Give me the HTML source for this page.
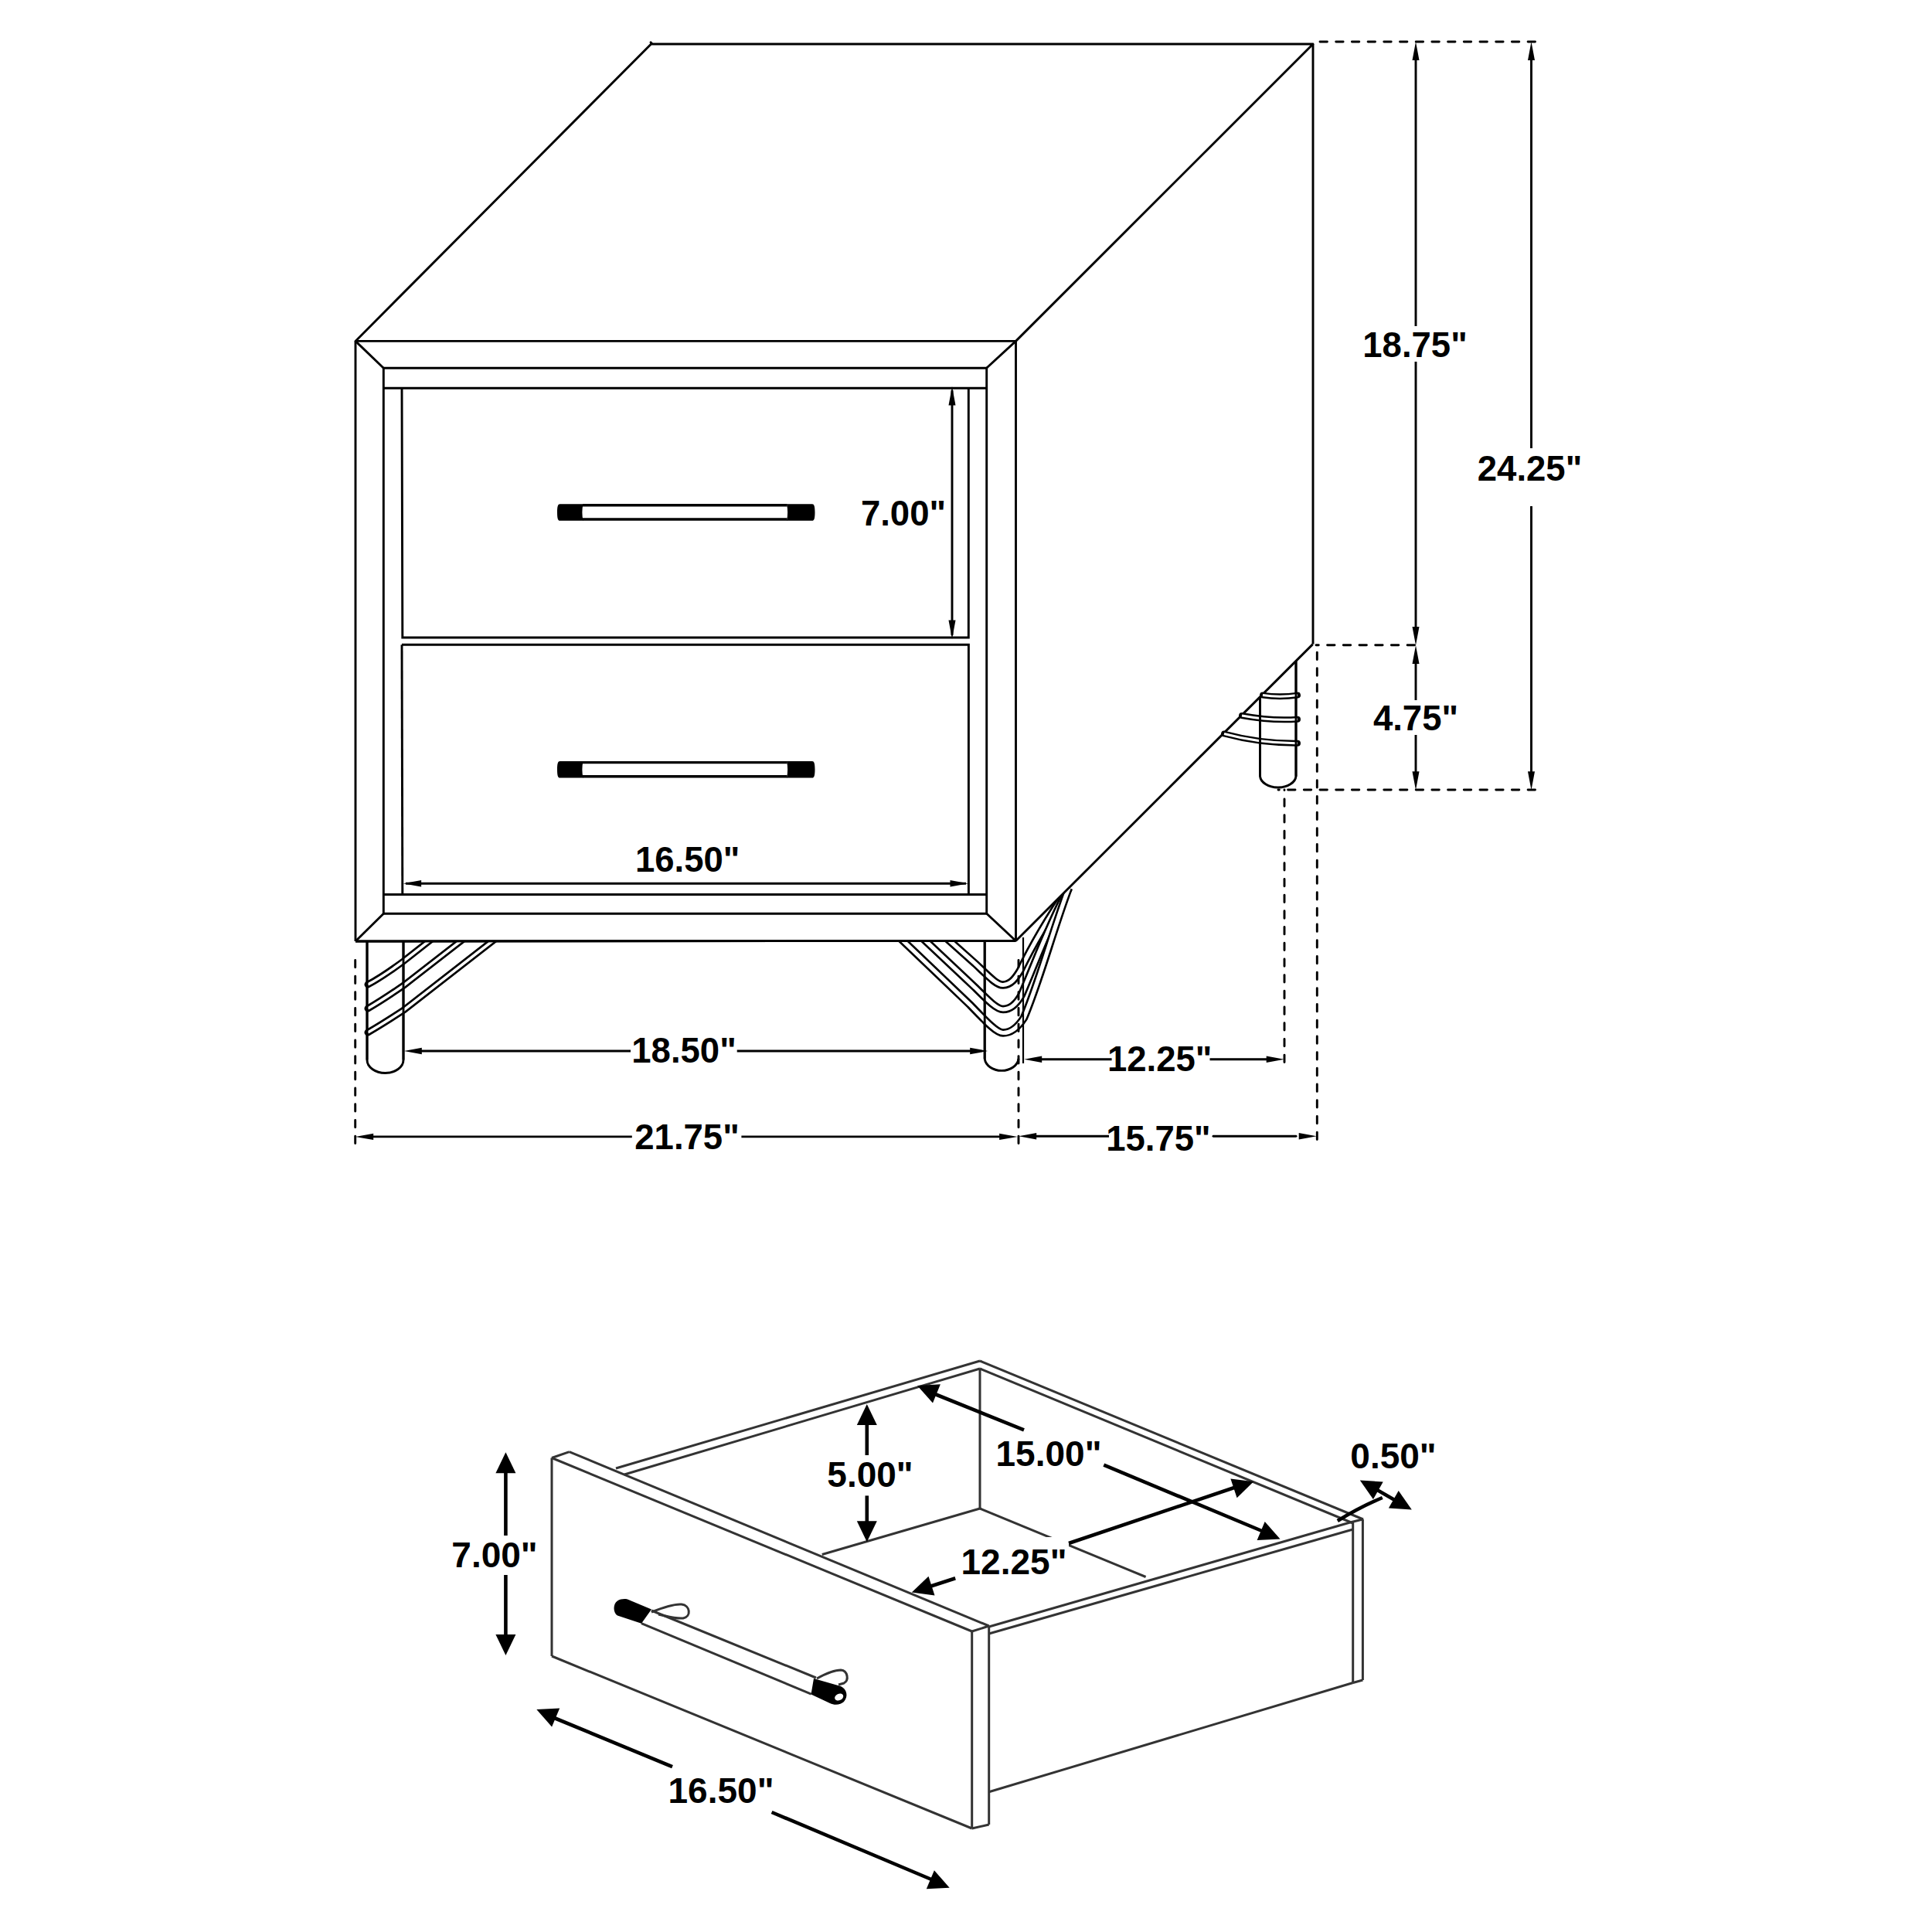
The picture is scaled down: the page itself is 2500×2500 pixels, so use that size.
<!DOCTYPE html>
<html><head><meta charset="utf-8"><style>
html,body{margin:0;padding:0;background:#fff;width:2500px;height:2500px;overflow:hidden}
svg{display:block}
text{font-family:"Liberation Sans",sans-serif;font-weight:bold;fill:#000}
</style></head><body>
<svg width="2500" height="2500" viewBox="0 0 2500 2500" stroke-linecap="butt">
<defs><clipPath id="below"><polygon points="0,1218 1314.5,1218 1698.7,833.6 2500,833.6 2500,2500 0,2500"/></clipPath></defs>
<rect width="2500" height="2500" fill="#fff"/>
<path d="M460,441.4 L842.5,57 L1699,57 L1314.5,441.4 Z" stroke="#000" stroke-width="2.9" fill="none" stroke-linejoin="round"/>
<line x1="1699" y1="57" x2="1699" y2="833.6" stroke="#000" stroke-width="2.9" />
<line x1="843.5" y1="56.5" x2="842" y2="54.8" stroke="#000" stroke-width="2.9" stroke-linecap="round"/>
<line x1="460" y1="441.4" x2="460" y2="1218" stroke="#000" stroke-width="2.9" />
<line x1="1314.5" y1="441.4" x2="1314.5" y2="1217.5" stroke="#000" stroke-width="2.9" />
<line x1="460" y1="1218" x2="1314.5" y2="1217.5" stroke="#000" stroke-width="2.9" />
<line x1="460" y1="441.4" x2="496.3" y2="476.3" stroke="#000" stroke-width="2.9" />
<line x1="1314.5" y1="441.4" x2="1276.6" y2="476.3" stroke="#000" stroke-width="2.9" />
<line x1="496.3" y1="1182.3" x2="460" y2="1218" stroke="#000" stroke-width="2.9" />
<line x1="1276.8" y1="1182.3" x2="1314.5" y2="1217.5" stroke="#000" stroke-width="2.9" />
<path d="M496.3,476.3 L1276.7,476.3 L1276.7,1182.3 L496.3,1182.3 Z" stroke="#000" stroke-width="2.9" fill="none" />
<line x1="496.3" y1="502.2" x2="1276.7" y2="502.2" stroke="#000" stroke-width="2.9" />
<path d="M520,502.2 L520.8,825 L1253.3,825 L1253.3,502.2" stroke="#000" stroke-width="2.9" fill="none" />
<path d="M520,834.3 L1253.4,834.3 L1253.4,1157.5" stroke="#000" stroke-width="2.9" fill="none" />
<line x1="520" y1="834.3" x2="520.8" y2="1157.5" stroke="#000" stroke-width="2.9" />
<line x1="496.3" y1="1157.5" x2="1276.7" y2="1157.5" stroke="#000" stroke-width="2.9" />
<line x1="754" y1="653.8" x2="1018.5" y2="653.8" stroke="#000" stroke-width="3.4" />
<line x1="754" y1="672.0" x2="1018.5" y2="672.0" stroke="#000" stroke-width="3.4" />
<path d="M754.5,652.2 L724.5,652.2 C722,652.2 721,655 721,663 C721,671 722,673.8 724.5,673.8 L754.5,673.8 C753,667 753,659 754.5,652.2 Z" fill="#000"/>
<path d="M1018,652.2 L1051,652.2 C1053.5,652.2 1054.5,655 1054.5,663 C1054.5,671 1053.5,673.8 1051,673.8 L1018,673.8 C1019.5,667 1019.5,659 1018,652.2 Z" fill="#000"/>
<line x1="754" y1="986.5999999999999" x2="1018.5" y2="986.5999999999999" stroke="#000" stroke-width="3.4" />
<line x1="754" y1="1004.8" x2="1018.5" y2="1004.8" stroke="#000" stroke-width="3.4" />
<path d="M754.5,985.0 L724.5,985.0 C722,985.0 721,987.8 721,995.8 C721,1003.8 722,1006.5999999999999 724.5,1006.5999999999999 L754.5,1006.5999999999999 C753,999.8 753,991.8 754.5,985.0 Z" fill="#000"/>
<path d="M1018,985.0 L1051,985.0 C1053.5,985.0 1054.5,987.8 1054.5,995.8 C1054.5,1003.8 1053.5,1006.5999999999999 1051,1006.5999999999999 L1018,1006.5999999999999 C1019.5,999.8 1019.5,991.8 1018,985.0 Z" fill="#000"/>
<line x1="1232" y1="505" x2="1232" y2="822" stroke="#000" stroke-width="2.9" />
<polygon points="1232.0,500.0 1236.5,524.6 1227.5,524.6" fill="#000"/>
<polygon points="1232.0,827.0 1227.5,802.4 1236.5,802.4" fill="#000"/>
<text x="1169" y="680" font-size="45.5" text-anchor="middle" >7.00"</text>
<line x1="525" y1="1143.2" x2="1250" y2="1143.2" stroke="#000" stroke-width="2.9" />
<polygon points="521.6,1143.2 545.1,1138.9 545.1,1147.5" fill="#000"/>
<polygon points="1253.0,1143.2 1229.5,1147.5 1229.5,1138.9" fill="#000"/>
<text x="889.7" y="1127.6" font-size="45.5" text-anchor="middle" >16.50"</text>
<path d="M475,1218 L475,1371.5 A23.5,17 0 0 0 522,1371.5 L522,1218" stroke="#000" stroke-width="2.9" fill="none" />
<g clip-path="url(#below)">
<path d="M560,1214 L522.5,1243.5 Q495,1264 476,1274" stroke="#000" stroke-width="9.0" fill="none" stroke-linecap="round"/>
<path d="M560,1214 L522.5,1243.5 Q495,1264 476,1274" stroke="#fff" stroke-width="3.6" fill="none" />
<path d="M601,1214 L522.5,1275 Q495,1294 476,1305" stroke="#000" stroke-width="9.0" fill="none" stroke-linecap="round"/>
<path d="M601,1214 L522.5,1275 Q495,1294 476,1305" stroke="#fff" stroke-width="3.6" fill="none" />
<path d="M642,1214 L522.5,1307 Q495,1325 476,1336" stroke="#000" stroke-width="9.0" fill="none" stroke-linecap="round"/>
<path d="M642,1214 L522.5,1307 Q495,1325 476,1336" stroke="#fff" stroke-width="3.6" fill="none" />
</g>
<line x1="475" y1="1218" x2="475" y2="1371.5" stroke="#000" stroke-width="2.9" />
<line x1="522" y1="1218" x2="522" y2="1371.5" stroke="#000" stroke-width="2.9" />
<path d="M1274.2,1218 L1274.2,1370 A22,17 0 0 0 1318,1370" stroke="#000" stroke-width="2.9" fill="none" />
<g clip-path="url(#below)">
<path d="M1225,1214 L1262,1247 C1280,1264 1290,1275 1298,1274.5 C1308,1274 1314,1266 1320,1256 C1335,1225 1355,1190 1383,1149" stroke="#000" stroke-width="10.5" fill="none" stroke-linecap="butt"/>
<path d="M1225,1214 L1262,1247 C1280,1264 1290,1275 1298,1274.5 C1308,1274 1314,1266 1320,1256 C1335,1225 1355,1190 1383,1149" stroke="#fff" stroke-width="5.2" fill="none" />
<path d="M1194,1214 L1262,1278 C1280,1296 1290,1306 1298,1306 C1308,1306 1316,1298 1322,1287 C1340,1245 1358,1195 1383,1149" stroke="#000" stroke-width="10.5" fill="none" stroke-linecap="butt"/>
<path d="M1194,1214 L1262,1278 C1280,1296 1290,1306 1298,1306 C1308,1306 1316,1298 1322,1287 C1340,1245 1358,1195 1383,1149" stroke="#fff" stroke-width="5.2" fill="none" />
<path d="M1165,1214 L1255,1300 C1278,1324 1290,1336.5 1298,1336.5 C1310,1336.5 1318,1328 1325,1317 C1345,1270 1362,1205 1383,1149" stroke="#000" stroke-width="10.5" fill="none" stroke-linecap="butt"/>
<path d="M1165,1214 L1255,1300 C1278,1324 1290,1336.5 1298,1336.5 C1310,1336.5 1318,1328 1325,1317 C1345,1270 1362,1205 1383,1149" stroke="#fff" stroke-width="5.2" fill="none" />
</g>
<line x1="1274.2" y1="1218" x2="1274.2" y2="1370" stroke="#000" stroke-width="2.9" />
<line x1="460" y1="1218" x2="1314.5" y2="1217.5" stroke="#000" stroke-width="2.9" />
<line x1="1314.5" y1="1217.5" x2="1698.7" y2="833.6" stroke="#000" stroke-width="2.9" />
<path d="M1630.5,902 L1630.5,1004.5 A23.3,15.5 0 0 0 1677,1004.5 L1677,855.6" stroke="#000" stroke-width="2.9" fill="none" />
<path d="M1634,899.6 Q1656,903 1679,899.6" stroke="#000" stroke-width="8.0" fill="none" stroke-linecap="round"/>
<path d="M1634,899.6 Q1656,903 1679,899.6" stroke="#fff" stroke-width="3.0" fill="none" />
<path d="M1607,926 Q1645,933 1679,930.7" stroke="#000" stroke-width="8.0" fill="none" stroke-linecap="round"/>
<path d="M1607,926 Q1645,933 1679,930.7" stroke="#fff" stroke-width="3.0" fill="none" />
<path d="M1584,949.5 Q1630,962 1679,961.7" stroke="#000" stroke-width="8.0" fill="none" stroke-linecap="round"/>
<path d="M1584,949.5 Q1630,962 1679,961.7" stroke="#fff" stroke-width="3.0" fill="none" />
<line x1="1630.5" y1="902" x2="1630.5" y2="1004.5" stroke="#000" stroke-width="2.9" />
<line x1="1677" y1="855.6" x2="1677" y2="1004.5" stroke="#000" stroke-width="2.9" />
<line x1="1988" y1="54" x2="1705" y2="54" stroke="#000" stroke-width="2.9" stroke-dasharray="9.4 11.3" stroke-dashoffset="-1.5" stroke-linecap="round"/>
<line x1="1832" y1="78" x2="1832" y2="422" stroke="#000" stroke-width="2.9" />
<line x1="1832" y1="468" x2="1832" y2="811" stroke="#000" stroke-width="2.9" />
<polygon points="1832.0,54.0 1836.5,78.0 1827.5,78.0" fill="#000"/>
<polygon points="1832.0,834.9 1827.5,810.9 1836.5,810.9" fill="#000"/>
<text x="1831" y="461.5" font-size="45.5" text-anchor="middle" >18.75"</text>
<line x1="1832" y1="858" x2="1832" y2="906" stroke="#000" stroke-width="2.9" />
<line x1="1832" y1="951" x2="1832" y2="999" stroke="#000" stroke-width="2.9" />
<polygon points="1832.0,834.9 1836.5,858.9 1827.5,858.9" fill="#000"/>
<polygon points="1832.0,1022.2 1827.5,998.2 1836.5,998.2" fill="#000"/>
<text x="1832" y="944.6" font-size="45.5" text-anchor="middle" >4.75"</text>
<line x1="1981.5" y1="78" x2="1981.5" y2="580" stroke="#000" stroke-width="2.9" />
<line x1="1981.5" y1="655" x2="1981.5" y2="999" stroke="#000" stroke-width="2.9" />
<polygon points="1981.5,54.0 1986.0,78.0 1977.0,78.0" fill="#000"/>
<polygon points="1981.5,1022.2 1977.0,998.2 1986.0,998.2" fill="#000"/>
<text x="1979.5" y="621.8" font-size="45.5" text-anchor="middle" >24.25"</text>
<line x1="1832" y1="834.7" x2="1703" y2="834.7" stroke="#000" stroke-width="2.9" stroke-dasharray="9.4 11.3" stroke-dashoffset="-1.5" stroke-linecap="round"/>
<line x1="1704.3" y1="1476" x2="1704.3" y2="835" stroke="#000" stroke-width="2.9" stroke-dasharray="9.4 11.3" stroke-dashoffset="-1.5" stroke-linecap="round"/>
<line x1="1988" y1="1022" x2="1654" y2="1022" stroke="#000" stroke-width="2.9" stroke-dasharray="9.4 11.3" stroke-dashoffset="-1.5" stroke-linecap="round"/>
<line x1="1662" y1="1376" x2="1662" y2="1022" stroke="#000" stroke-width="2.9" stroke-dasharray="9.4 11.3" stroke-dashoffset="-1.5" stroke-linecap="round"/>
<line x1="459.7" y1="1481" x2="459.7" y2="1237" stroke="#000" stroke-width="2.9" stroke-dasharray="9.4 11.3" stroke-dashoffset="-1.5" stroke-linecap="round"/>
<line x1="1318" y1="1481" x2="1318" y2="1238" stroke="#000" stroke-width="2.9" stroke-dasharray="9.4 11.3" stroke-dashoffset="-1.5" stroke-linecap="round"/>
<line x1="1324" y1="1213" x2="1324" y2="1376" stroke="#000" stroke-width="2.2" />
<line x1="545" y1="1360" x2="816" y2="1360" stroke="#000" stroke-width="2.9" />
<line x1="953.7" y1="1360" x2="1256" y2="1360" stroke="#000" stroke-width="2.9" />
<polygon points="522.8,1360.0 545.8,1355.8 545.8,1364.2" fill="#000"/>
<polygon points="1278.2,1360.0 1255.2,1364.2 1255.2,1355.8" fill="#000"/>
<text x="885" y="1375.4" font-size="45.5" text-anchor="middle" >18.50"</text>
<line x1="483" y1="1470.9" x2="817.8" y2="1470.9" stroke="#000" stroke-width="2.9" />
<line x1="959.4" y1="1470.9" x2="1295" y2="1470.9" stroke="#000" stroke-width="2.9" />
<polygon points="459.7,1470.9 483.2,1466.7 483.2,1475.1" fill="#000"/>
<polygon points="1316.6,1470.9 1293.1,1475.1 1293.1,1466.7" fill="#000"/>
<text x="889" y="1487" font-size="45.5" text-anchor="middle" >21.75"</text>
<line x1="1347" y1="1370.7" x2="1438.6" y2="1370.7" stroke="#000" stroke-width="2.9" />
<line x1="1565.5" y1="1370.7" x2="1640" y2="1370.7" stroke="#000" stroke-width="2.9" />
<polygon points="1325.2,1370.7 1348.2,1366.5 1348.2,1374.9" fill="#000"/>
<polygon points="1661.7,1370.7 1638.7,1374.9 1638.7,1366.5" fill="#000"/>
<text x="1500.6" y="1386.4" font-size="45.5" text-anchor="middle" >12.25"</text>
<line x1="1340" y1="1470.2" x2="1435" y2="1470.2" stroke="#000" stroke-width="2.9" />
<line x1="1570" y1="1470.2" x2="1677" y2="1470.2" stroke="#000" stroke-width="2.9" stroke-linecap="round"/>
<polygon points="1318.2,1470.2 1341.2,1466.0 1341.2,1474.4" fill="#000"/>
<polygon points="1703.7,1470.2 1680.7,1474.4 1680.7,1466.0" fill="#000"/>
<text x="1498.9" y="1488.8" font-size="45.5" text-anchor="middle" >15.75"</text>
<line x1="714" y1="1886.5" x2="714" y2="2143" stroke="#333" stroke-width="3.0" />
<line x1="714" y1="1886.5" x2="1257.7" y2="2111" stroke="#333" stroke-width="3.0" />
<line x1="714" y1="2143" x2="1257.7" y2="2366" stroke="#333" stroke-width="3.0" />
<line x1="1257.7" y1="2111" x2="1257.7" y2="2366" stroke="#333" stroke-width="3.0" />
<line x1="1279.7" y1="2105" x2="1279.7" y2="2361" stroke="#333" stroke-width="3.0" />
<line x1="1257.7" y1="2366" x2="1279.7" y2="2361" stroke="#333" stroke-width="3.0" />
<line x1="714" y1="1886.5" x2="736.7" y2="1878.6" stroke="#333" stroke-width="3.0" />
<line x1="736.7" y1="1878.6" x2="1279.7" y2="2104" stroke="#333" stroke-width="3.0" />
<line x1="1257.7" y1="2111" x2="1279.7" y2="2104" stroke="#333" stroke-width="3.0" />
<line x1="797" y1="1900" x2="1268" y2="1761" stroke="#333" stroke-width="3.0" />
<line x1="808" y1="1908" x2="1268" y2="1771" stroke="#333" stroke-width="3.0" />
<line x1="1268" y1="1771" x2="1268" y2="1952" stroke="#333" stroke-width="3.0" />
<line x1="1268" y1="1761" x2="1764" y2="1966" stroke="#333" stroke-width="3.0" />
<line x1="1268" y1="1771" x2="1750.7" y2="1971" stroke="#333" stroke-width="3.0" />
<line x1="1268" y1="1952" x2="1063.8" y2="2011.5" stroke="#333" stroke-width="3.0" />
<line x1="1268" y1="1952" x2="1482.6" y2="2040.5" stroke="#333" stroke-width="3.0" />
<line x1="1279.7" y1="2105" x2="1747" y2="1970" stroke="#333" stroke-width="3.0" />
<line x1="1279.7" y1="2114" x2="1750.7" y2="1979" stroke="#333" stroke-width="3.0" />
<line x1="1747" y1="1970" x2="1763.4" y2="1966" stroke="#333" stroke-width="3.0" />
<line x1="1750.7" y1="1970" x2="1750.7" y2="2177.5" stroke="#333" stroke-width="3.0" />
<line x1="1763.4" y1="1966" x2="1763.4" y2="2174" stroke="#333" stroke-width="3.0" />
<line x1="1750.7" y1="2177.5" x2="1763.4" y2="2174" stroke="#333" stroke-width="3.0" />
<line x1="1279.7" y1="2318.8" x2="1750.7" y2="2177.5" stroke="#333" stroke-width="3.0" />
<path d="M830,2100.7 L1049.7,2192.2" stroke="#333" stroke-width="3.0" fill="none" />
<path d="M843,2084 L1055.9,2171" stroke="#333" stroke-width="3.0" fill="none" />
<path d="M843,2086 C858,2080 872,2075 882,2076 C893,2077 895,2092 884,2094 C874,2095 862,2091 852,2089" stroke="#333" stroke-width="3.0" fill="none" />
<path d="M1057,2172 C1068,2166 1080,2161 1088,2161 C1097,2162 1099,2174 1092,2178 L1085,2180" stroke="#333" stroke-width="3.0" fill="none" />
<path d="M812,2069.5 L843,2082.6 L830,2100.7 L799,2090.6 C793,2087 793,2075 799,2071.5 C803,2069 808,2068.5 812,2069.5 Z" fill="#000"/>
<path d="M1053,2172 L1088,2182 C1096,2186 1098,2195 1092,2202 C1088,2206 1080,2207 1074,2204 L1049.5,2192.5 Z" fill="#000"/>
<ellipse cx="1085.7" cy="2196" rx="5.8" ry="4.2" transform="rotate(-25 1085.7 2196)" fill="#fff"/>
<line x1="654.4" y1="1900" x2="654.4" y2="1987" stroke="#000" stroke-width="4.6" />
<line x1="654.4" y1="2038" x2="654.4" y2="2120" stroke="#000" stroke-width="4.6" />
<polygon points="654.4,1879.3 667.4,1906.3 641.4,1906.3" fill="#000"/>
<polygon points="654.4,2142.0 641.4,2115.0 667.4,2115.0" fill="#000"/>
<text x="640" y="2027.8" font-size="46" text-anchor="middle" >7.00"</text>
<line x1="1121.8" y1="1840" x2="1121.8" y2="1883" stroke="#000" stroke-width="4.6" />
<line x1="1121.8" y1="1935.4" x2="1121.8" y2="1975" stroke="#000" stroke-width="4.6" />
<polygon points="1121.8,1817.0 1134.8,1844.0 1108.8,1844.0" fill="#000"/>
<polygon points="1121.8,1995.2 1108.8,1968.2 1134.8,1968.2" fill="#000"/>
<text x="1126" y="1923.5" font-size="46" text-anchor="middle" >5.00"</text>
<line x1="1200" y1="1800" x2="1325" y2="1850.3" stroke="#000" stroke-width="4.6" />
<line x1="1428.3" y1="1895.6" x2="1640" y2="1984" stroke="#000" stroke-width="4.6" />
<polygon points="1187.0,1793.0 1216.9,1791.3 1207.0,1815.4" fill="#000"/>
<polygon points="1656.5,1991.6 1626.6,1993.1 1636.7,1969.1" fill="#000"/>
<text x="1357" y="1897.4" font-size="46" text-anchor="middle" >15.00"</text>
<rect x="1240" y="1989" width="143" height="56" fill="#fff"/>
<line x1="1383" y1="1997" x2="1600" y2="1924" stroke="#000" stroke-width="4.6" />
<line x1="1236.2" y1="2042.3" x2="1200" y2="2054" stroke="#000" stroke-width="4.6" />
<polygon points="1622.1,1917.3 1600.6,1938.2 1592.4,1913.5" fill="#000"/>
<polygon points="1179.8,2060.4 1201.5,2039.8 1209.5,2064.5" fill="#000"/>
<text x="1312" y="2036.9" font-size="46" text-anchor="middle" >12.25"</text>
<line x1="1770" y1="1921" x2="1815" y2="1947" stroke="#000" stroke-width="4.6" />
<polygon points="1759.8,1915.5 1789.7,1917.5 1776.9,1940.1" fill="#000"/>
<polygon points="1826.8,1953.5 1796.9,1951.5 1809.7,1928.9" fill="#000"/>
<path d="M1730.8,1968 Q1760,1950 1788.8,1938" stroke="#000" stroke-width="4.6" fill="none" />
<text x="1803" y="1900.3" font-size="46" text-anchor="middle" >0.50"</text>
<line x1="710" y1="2220" x2="870" y2="2286.2" stroke="#000" stroke-width="4.6" />
<line x1="998.6" y1="2345" x2="1210" y2="2434" stroke="#000" stroke-width="4.6" />
<polygon points="694.3,2212.0 724.2,2210.5 714.1,2234.5" fill="#000"/>
<polygon points="1228.7,2442.8 1198.8,2444.2 1208.9,2420.3" fill="#000"/>
<text x="933" y="2333.3" font-size="46" text-anchor="middle" >16.50"</text>
</svg></body></html>
